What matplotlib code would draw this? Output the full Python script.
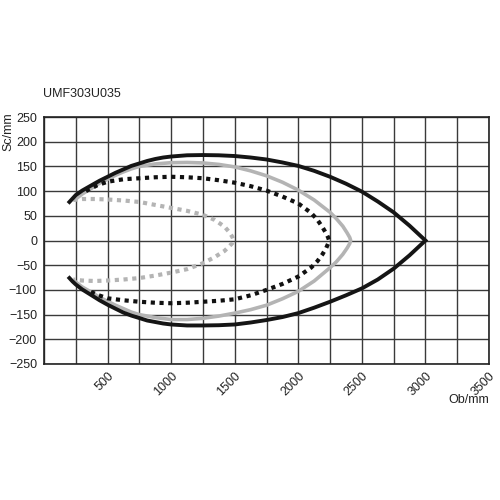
import matplotlib

matplotlib.use("Agg")

import matplotlib.pyplot as plt
import numpy as np

plt.rcParams["font.family"] = ["Liberation Sans", "DejaVu Sans"]

TITLE = "UMF303U035"
X_LABEL = "Ob/mm"
Y_LABEL = "Sc/mm"

# black solid envelope
BLACK_X = [200, 225, 250, 300, 375, 437, 500, 562, 625, 687, 750, 812, 875, 937, 1000,
           1125, 1250, 1375, 1500, 1625, 1750, 1875, 2000, 2125, 2250, 2375, 2500,
           2625, 2750, 2875, 3000]
BLACK_UP = [78, 85, 92, 101, 112, 121, 129, 137, 144, 151, 156, 161, 165, 168, 170,
            172.5, 173, 172.5, 171, 168, 164, 158, 151, 141, 129, 115, 99,
            79, 57, 30, 0]
BLACK_LO = [-76, -83, -89, -99, -111, -121, -130, -138, -146, -152, -157, -162, -165, -168, -170,
            -172, -172, -171.5, -170, -166, -161, -155, -147, -136, -124, -111, -97,
            -79, -57, -30, 0]

# grey solid envelope
GREY_X = [250, 300, 375, 437, 500, 562, 625, 687, 750, 875, 1000, 1125, 1250, 1375,
          1500, 1625, 1750, 1875, 2000, 2125, 2250, 2300, 2350, 2385, 2405, 2412]
GREY_UP = [84, 94, 106, 116, 124, 132, 139, 145, 150, 155, 157.5, 158, 157, 154,
           149, 141, 131, 118, 102, 82, 57, 44, 29, 15, 6, 0]
GREY_LO = [-84, -94, -105, -115, -123, -131, -138, -145, -150, -156, -160, -160, -157.5, -153,
           -147, -140, -131, -118, -103, -82, -55, -43, -28, -15, -6, 0]

# black dotted envelope
BDOT_X_UP = [330, 420, 500, 625, 750, 875, 1000, 1125, 1250, 1375, 1500, 1625,
             1750, 1875, 2000, 2100, 2150, 2190, 2220, 2235, 2242]
BDOT_UP = [100, 112, 119, 124, 126, 128, 129, 128, 126, 122, 117, 110,
           101, 89, 75, 56, 42, 27, 14, 6, 0]
BDOT_X_LO = [360, 420, 500, 625, 750, 875, 1000, 1125, 1250, 1375, 1500, 1625,
             1750, 1875, 2000, 2100, 2150, 2190, 2220, 2235, 2242]
BDOT_LO = [-103, -110, -117, -121, -124, -126, -127, -126, -124, -122, -119, -111,
           -100, -88, -73, -55, -42, -28, -15, -6, 0]

# grey dotted envelope
GDOT_X_UP = [230, 300, 400, 500, 625, 750, 875, 1000, 1125, 1250, 1340, 1420, 1460, 1482, 1492]
GDOT_UP = [82, 84, 84, 83, 81, 78, 72, 66, 60, 52, 42, 28, 16, 7, 0]
GDOT_X_LO = [230, 300, 400, 500, 625, 750, 875, 1000, 1125, 1250, 1340, 1420, 1460, 1482, 1492]
GDOT_LO = [-79, -81, -82, -81, -79, -76, -71, -65, -58, -46, -34, -21, -11, -5, 0]

X_TICKS = [500, 1000, 1500, 2000, 2500, 3000, 3500]
Y_TICKS = [-250, -200, -150, -100, -50, 0, 50, 100, 150, 200, 250]


def loop(x_up, y_up, x_lo, y_lo):
    xs = list(x_up) + list(x_lo)[::-1]
    ys = list(y_up) + list(y_lo)[::-1]
    return xs, ys


fig = plt.figure(figsize=(5, 5), dpi=100)
ax = fig.add_axes([0.088, 0.272, 0.89, 0.494])

ax.set_xlim(0, 3500)
ax.set_ylim(-250, 250)
ax.set_xticks(np.arange(0, 3501, 250), minor=True)
ax.set_xticks(X_TICKS)
ax.set_yticks(Y_TICKS)
ax.grid(True, which="both", color="#3a3a3a", linewidth=1.0)
ax.set_axisbelow(True)
for spine in ax.spines.values():
    spine.set_color("#222222")
    spine.set_linewidth(1.2)

ax.tick_params(which="both", length=0, labelsize=9, colors="#222222")
ax.tick_params(axis="y", pad=5)
ax.tick_params(axis="x", pad=4)
ax.set_xticklabels([str(t) for t in X_TICKS], rotation=45, ha="right", va="top",
                   rotation_mode="anchor")

xs, ys = loop(GDOT_X_UP, GDOT_UP, GDOT_X_LO, GDOT_LO)
ax.plot(xs, ys, color="#b4b4b4", linewidth=3.0, linestyle=(0, (1, 1.1)),
        dash_capstyle="butt", zorder=3)
xs, ys = loop(GREY_X, GREY_UP, GREY_X, GREY_LO)
ax.plot(xs, ys, color="#b4b4b4", linewidth=2.6, zorder=4)
xs, ys = loop(BDOT_X_UP, BDOT_UP, BDOT_X_LO, BDOT_LO)
ax.plot(xs, ys, color="#111111", linewidth=3.0, linestyle=(0, (1, 1.1)),
        dash_capstyle="butt", zorder=5)
xs, ys = loop(BLACK_X, BLACK_UP, BLACK_X, BLACK_LO)
ax.plot(xs, ys, color="#151515", linewidth=2.8, zorder=6, solid_joinstyle="miter")

fig.text(0.086, 0.812, TITLE, fontsize=9, color="#222222", ha="left", va="center")
fig.text(0.004, 0.736, Y_LABEL, fontsize=9, color="#222222", rotation=90,
         ha="left", va="center")
fig.text(0.978, 0.20, X_LABEL, fontsize=9, color="#222222", ha="right", va="center")

fig.savefig("out.png", dpi=100)
